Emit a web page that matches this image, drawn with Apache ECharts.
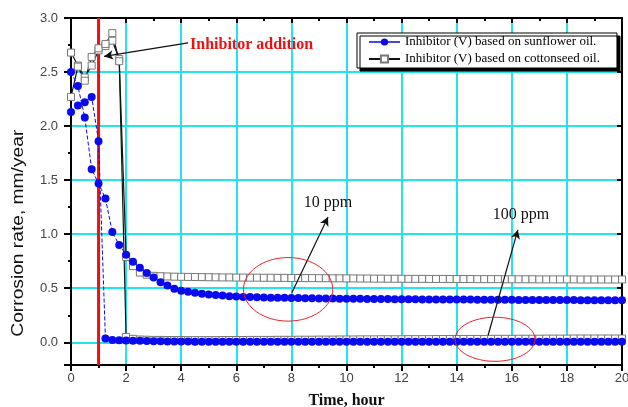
<!DOCTYPE html>
<html><head><meta charset="utf-8">
<script src="https://cdn.jsdelivr.net/npm/echarts@6/dist/echarts.min.js"></script>
<style>html,body{margin:0;padding:0;background:#fff}#c{width:628px;height:407px}</style>
</head><body><div id="c"></div>
<script>
// Time, hour (sampling every 0.25 h)
const timeHours = [
  0, 0.25, 0.5, 0.75,   1, 1.25, 1.5, 1.75,   2, 2.25, 2.5, 2.75,   3, 3.25, 3.5, 3.75,
  4, 4.25, 4.5, 4.75,   5, 5.25, 5.5, 5.75,   6, 6.25, 6.5, 6.75,   7, 7.25, 7.5, 7.75,
  8, 8.25, 8.5, 8.75,   9, 9.25, 9.5, 9.75,   10, 10.25, 10.5, 10.75, 11, 11.25, 11.5, 11.75,
  12, 12.25, 12.5, 12.75, 13, 13.25, 13.5, 13.75, 14, 14.25, 14.5, 14.75, 15, 15.25, 15.5, 15.75,
  16, 16.25, 16.5, 16.75, 17, 17.25, 17.5, 17.75, 18, 18.25, 18.5, 18.75, 19, 19.25, 19.5, 19.75,
  20
];
// Inhibitor (V) based on sunflower oil, 10 ppm
const sunflower10 = [
  2.50, 2.37, 2.08, 1.60,   1.47, 1.33, 1.02, 0.90,   0.81, 0.745, 0.69, 0.64,   0.60, 0.555, 0.525, 0.495,
  0.476, 0.467, 0.458, 0.450, 0.443, 0.437, 0.432, 0.427, 0.423, 0.420, 0.418, 0.416, 0.414, 0.413, 0.412, 0.411,
  0.410, 0.409, 0.408, 0.407, 0.406, 0.405, 0.405, 0.404, 0.403, 0.402, 0.402, 0.401, 0.401, 0.400, 0.400, 0.399,
  0.399, 0.398, 0.398, 0.397, 0.397, 0.397, 0.396, 0.396, 0.396, 0.395, 0.395, 0.394, 0.394, 0.394, 0.393, 0.393,
  0.393, 0.392, 0.392, 0.392, 0.392, 0.391, 0.391, 0.391, 0.391, 0.391, 0.390, 0.390, 0.390, 0.390, 0.390, 0.390,
  0.390
];
// Inhibitor (V) based on sunflower oil, 100 ppm
const sunflower100 = [
  2.13, 2.19, 2.22, 2.27,   1.86, 0.034, 0.022, 0.018,   0.016, 0.015, 0.014, 0.012,   0.010, 0.009, 0.008, 0.008,
  0.007, 0.007, 0.006, 0.006, 0.006, 0.006, 0.005, 0.005, 0.005, 0.005, 0.005, 0.005, 0.005, 0.005, 0.005, 0.005,
  0.005, 0.005, 0.005, 0.005, 0.005, 0.005, 0.005, 0.005, 0.005, 0.005, 0.005, 0.005, 0.005, 0.005, 0.005, 0.005,
  0.005, 0.005, 0.005, 0.005, 0.005, 0.005, 0.005, 0.005, 0.005, 0.005, 0.005, 0.005, 0.005, 0.005, 0.005, 0.005,
  0.005, 0.005, 0.005, 0.005, 0.005, 0.005, 0.005, 0.005, 0.005, 0.005, 0.005, 0.005, 0.005, 0.005, 0.005, 0.005,
  0.005
];
// Inhibitor (V) based on cottonseed oil, 10 ppm
const cotton10 = [
  2.68, 2.56, 2.45, 2.56,   2.70, 2.74, 2.79, 2.62,   0.79, 0.705, 0.645, 0.625,   0.615, 0.611, 0.609, 0.607,
  0.606, 0.605, 0.604, 0.603, 0.602, 0.601, 0.600, 0.600, 0.599, 0.599, 0.598, 0.598, 0.597, 0.597, 0.596, 0.596,
  0.595, 0.595, 0.594, 0.594, 0.593, 0.593, 0.592, 0.592, 0.591, 0.591, 0.590, 0.590, 0.589, 0.589, 0.588, 0.588,
  0.588, 0.587, 0.587, 0.587, 0.586, 0.586, 0.586, 0.585, 0.585, 0.585, 0.585, 0.584, 0.584, 0.584, 0.584, 0.583,
  0.583, 0.583, 0.583, 0.583, 0.582, 0.582, 0.582, 0.582, 0.582, 0.582, 0.581, 0.581, 0.581, 0.581, 0.581, 0.581,
  0.581
];
// Inhibitor (V) based on cottonseed oil, 100 ppm
const cotton100 = [
  2.27, 2.55, 2.42, 2.64,   2.72, 2.76, 2.86, 2.60,   0.050, 0.032, 0.026, 0.024,   0.022, 0.022, 0.021, 0.021,
  0.021, 0.020, 0.020, 0.020, 0.020, 0.020, 0.021, 0.021, 0.021, 0.021, 0.022, 0.022, 0.022, 0.022, 0.023, 0.023,
  0.023, 0.024, 0.024, 0.024, 0.025, 0.025, 0.025, 0.026, 0.026, 0.026, 0.027, 0.027, 0.027, 0.028, 0.028, 0.028,
  0.028, 0.029, 0.029, 0.029, 0.029, 0.030, 0.030, 0.030, 0.030, 0.031, 0.031, 0.031, 0.031, 0.032, 0.032, 0.032,
  0.032, 0.033, 0.033, 0.033, 0.033, 0.034, 0.034, 0.034, 0.034, 0.035, 0.035, 0.035, 0.035, 0.035, 0.035, 0.035,
  0.035
];
const additionTime = [1, 1];
const additionSpan = [-0.21, 3.0];
const xTickLabels = ['0','2','4','6','8','10','12','14','16','18','20'];
const yTickLabels = ['0.0','0.5','1.0','1.5','2.0','2.5','3.0'];

const NAME_SUN = 'Inhibitor (V) based on sunflower oil.';
const NAME_COT = 'Inhibitor (V) based on cottonseed oil.';
const SERIF = "'Liberation Serif','Times New Roman',serif";
const SANS = "'Liberation Sans',Arial,sans-serif";
const CYAN = '#22e4ee';
const BLUE = '#0a0aee';
const RED = '#ee1111';

function pairs(xs, ys) { return xs.map((x, i) => [x, ys[i]]); }

const chart = echarts.init(document.getElementById('c'), null, {renderer: 'canvas'});

const yMin = additionSpan[0], yMax = additionSpan[1];

const option = {
  animation: false,
  backgroundColor: '#fff',
  grid: {left: 71, right: 6, top: 18, bottom: 42, containLabel: false, outerBoundsMode: 'none'},
  legend: {
    data: [{name: NAME_SUN, lineStyle: {type: 'solid', width: 1.5}}, {name: NAME_COT}],
    orient: 'vertical', left: 357, top: 33,
    backgroundColor: '#fff', borderColor: '#000', borderWidth: 1,
    shadowColor: '#000', shadowOffsetX: 3, shadowOffsetY: 3, shadowBlur: 0.01,
    padding: [2, 17, 2, 11], itemGap: 3, itemWidth: 31, itemHeight: 9,
    selectedMode: false,
    textStyle: {fontFamily: SERIF, fontSize: 13, color: '#000', lineHeight: 14}
  },
  xAxis: [{
    type: 'value', min: 0, max: 20, interval: 2, position: 'bottom',
    name: 'Time, hour', nameLocation: 'middle', nameGap: 28,
    nameTextStyle: {fontFamily: SERIF, fontWeight: 'bold', fontSize: 16, color: '#111'},
    axisLine: {show: true, onZero: false, lineStyle: {color: '#000', width: 2}},
    axisTick: {show: true, length: 6, lineStyle: {color: '#000', width: 2}},
    minorTick: {show: true, splitNumber: 2, length: 3, lineStyle: {color: '#000', width: 2}},
    axisLabel: {fontFamily: SANS, fontSize: 13, color: '#444', margin: 7,
      formatter: v => xTickLabels.includes(String(v)) ? String(v) : ''},
    splitLine: {show: true, lineStyle: {color: CYAN, width: 2}}
  }, {
    type: 'value', min: 0, max: 20, interval: 2, position: 'top',
    axisLine: {show: true, onZero: false, lineStyle: {color: '#000', width: 2}},
    axisTick: {show: true, inside: true, length: 5, lineStyle: {color: '#000', width: 2}},
    minorTick: {show: true, splitNumber: 2, length: 3, lineStyle: {color: '#000', width: 2}},
    axisLabel: {show: false}, splitLine: {show: false}
  }],
  yAxis: [{
    type: 'value', min: yMin, max: yMax, position: 'left',
    axisLine: {show: true, onZero: false, lineStyle: {color: '#000', width: 2}},
    axisTick: {show: true, length: 7, lineStyle: {color: '#000', width: 2}},
    minorTick: {show: true, splitNumber: 2, length: 3, lineStyle: {color: '#000', width: 2}},
    axisLabel: {fontFamily: SANS, fontSize: 13, color: '#444', margin: 13,
      formatter: v => { const s = v.toFixed(1); return yTickLabels.includes(s) && Math.abs(v - Number(s)) < 1e-6 ? s : ''; }},
    splitLine: {show: true, lineStyle: {color: CYAN, width: 2}}
  }, {
    type: 'value', min: yMin, max: yMax, position: 'right',
    axisLine: {show: true, onZero: false, lineStyle: {color: '#000', width: 2}},
    axisTick: {show: true, inside: true, length: 5, lineStyle: {color: '#000', width: 2}},
    minorTick: {show: false},
    axisLabel: {show: false}, splitLine: {show: false}
  }],
  series: [
    {
      name: 'addition', type: 'line', xAxisIndex: 0, yAxisIndex: 0,
      data: pairs(additionTime, additionSpan), symbol: 'none', silent: true,
      lineStyle: {color: RED, width: 3}, z: 1,
      markLine: {
        silent: true, symbol: ['none', 'arrow'], symbolSize: [7, 9],
        lineStyle: {color: '#111', width: 1.2, type: 'solid'}, label: {show: false},
        data: [
          [{coord: [4.25, 2.77]}, {coord: [1.2, 2.645]}],
          [{coord: [8.02, 0.46]}, {coord: [9.33, 1.16]}],
          [{coord: [15.14, 0.065]}, {coord: [16.22, 1.04]}]
        ]
      }
    },
    {
      name: NAME_COT, type: 'line', data: pairs(timeHours, cotton10),
      symbol: 'rect', symbolSize: 7, z: 2,
      itemStyle: {color: '#fff', borderColor: '#777', borderWidth: 1},
      lineStyle: {color: '#111', width: 1.2}
    },
    {
      name: NAME_COT, type: 'line', data: pairs(timeHours, cotton100),
      symbol: 'rect', symbolSize: 7, z: 2,
      itemStyle: {color: '#fff', borderColor: '#777', borderWidth: 1},
      lineStyle: {color: '#111', width: 1.2}
    },
    {
      name: NAME_SUN, type: 'line', data: pairs(timeHours, sunflower10),
      symbol: 'circle', symbolSize: 8, z: 3,
      itemStyle: {color: BLUE},
      lineStyle: {color: BLUE, width: 1, type: 'dashed'}
    },
    {
      name: NAME_SUN, type: 'line', data: pairs(timeHours, sunflower100),
      symbol: 'circle', symbolSize: 8, z: 3,
      itemStyle: {color: BLUE},
      lineStyle: {color: BLUE, width: 1, type: 'dashed'}
    }
  ]
};
chart.setOption(option);

// annotations placed in data coordinates
const notes = [
  {text: 'Inhibitor addition', at: [4.32, 2.75], align: 'left', color: RED, weight: 'bold', size: 16},
  {text: '10 ppm', at: [9.33, 1.29], align: 'center', color: '#111', weight: 'normal', size: 16},
  {text: '100 ppm', at: [16.33, 1.18], align: 'center', color: '#111', weight: 'normal', size: 16}
];
const rings = [
  {c: [7.88, 0.49], r: [1.62, 0.294]},
  {c: [15.39, 0.028], r: [1.45, 0.204]}
];
const px = p => chart.convertToPixel({xAxisIndex: 0, yAxisIndex: 0}, p);
const graphics = [];
notes.forEach(n => {
  const p = px(n.at);
  graphics.push({type: 'text', x: p[0], y: p[1], z: 10,
    style: {text: n.text, fill: n.color, font: `${n.weight} ${n.size}px ${SERIF}`,
      textAlign: n.align, textVerticalAlign: 'middle'}});
});
rings.forEach(r => {
  const c = px(r.c), e = px([r.c[0] + r.r[0], r.c[1] + r.r[1]]);
  graphics.push({type: 'ellipse', z: 10,
    shape: {cx: c[0], cy: c[1], rx: Math.abs(e[0] - c[0]), ry: Math.abs(c[1] - e[1])},
    style: {fill: 'none', stroke: '#e8232a', lineWidth: 1}});
});
// y-axis title
const yTitle = px([0, 1.0]);
graphics.push({type: 'text', x: 19, y: yTitle[1] - 1, rotation: Math.PI / 2, scaleX: 1.2, z: 10,
  style: {text: 'Corrosion rate, mm/year', fill: '#111', font: `16px ${SANS}`,
    textAlign: 'center', textVerticalAlign: 'middle'}});
chart.setOption({graphic: graphics});
</script>
</body></html>
